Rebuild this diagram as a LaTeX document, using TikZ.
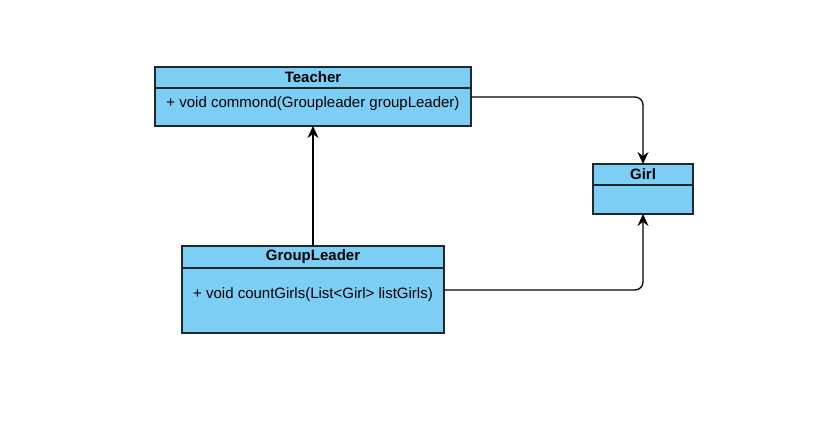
\documentclass[tikz,border=0pt]{standalone}
\usepackage{fontspec}
\setmainfont{Liberation Sans}
\usetikzlibrary{arrows.meta}
\definecolor{classfill}{RGB}{125,206,245}
\definecolor{classline}{RGB}{30,40,45}

\begin{document}
\begin{tikzpicture}[x=1pt,y=-1pt]
\tikzstyle{every node}+=[inner sep=0pt, outer sep=0pt]
\tikzstyle{classhead}=[draw=classline, fill=classfill, line width=1.1pt, font=\fontsize{15}{17}\selectfont\bfseries]
\tikzstyle{classbody}=[draw=classline, fill=classfill, line width=1.1pt, font=\fontsize{15}{17}\selectfont]
\tikzstyle{link}=[draw=black, line width=1.3pt, rounded corners=8pt, -{Stealth[length=12pt,width=11pt,inset=4pt]}]
\useasboundingbox (0,0) rectangle (828,425);
% Teacher
\node [classbody, minimum width=316pt, minimum height=38pt] (teacherbody) at (313,107) {};
\node [classhead, minimum width=316pt, minimum height=21pt] (teacher) at (313,77.5) {Teacher};
\node [font=\fontsize{15}{17}\selectfont] (teachertext) at (313,104) {+ void commond(Groupleader groupLeader)};
% Girl
\node [classbody, minimum width=100pt, minimum height=29pt] (girlbody) at (643,199.5) {};
\node [classhead, minimum width=100pt, minimum height=21pt] (girl) at (643,174.5) {Girl};
% GroupLeader
\node [classbody, minimum width=262pt, minimum height=65pt] (leaderbody) at (313,300.5) {};
\node [classhead, minimum width=262pt, minimum height=22pt] (leader) at (313,257) {GroupLeader};
\node [font=\fontsize{15}{17}\selectfont] (leadertext) at (313,295) {+ void countGirls(List<Girl> listGirls)};
% connectors
\coordinate (teacherout) at (teacherbody.east |- 0,97);
\coordinate (leaderout) at (leaderbody.east |- 0,290);
\draw [link] (teacherout) -| (girl.north);
\draw [link] (leaderout) -| (girlbody.south);
\draw [link] (leader.north) -- (teacherbody.south);
\end{tikzpicture}
\end{document}
